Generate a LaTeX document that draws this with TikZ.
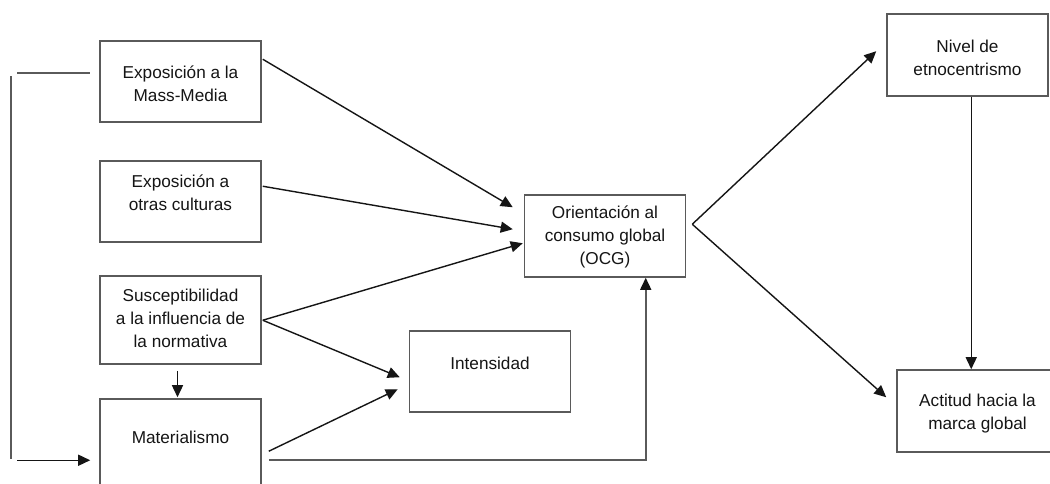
\documentclass[tikz,border=0pt]{standalone}
\usepackage{fontspec}
\setmainfont{Liberation Sans}
\usetikzlibrary{arrows.meta,calc}
\definecolor{boxline}{HTML}{5A5A5A}
\definecolor{wire}{HTML}{151515}
\definecolor{ink}{HTML}{151515}
\tikzset{
  box/.style={draw=boxline, line width=1.15pt, minimum width=120.75pt, inner sep=0pt},
  txt/.style={align=center, text=ink, font=\fontsize{12.9}{17.2}\selectfont, inner sep=0pt},
  tip/.style={-{Triangle[length=9pt,width=8.25pt,color=wire]}},
  arr/.style={draw=wire, line width=1.05pt, tip},
  graywire/.style={draw=boxline, line width=1.15pt}
}
\begin{document}
\begin{tikzpicture}[x=0.75pt,y=-0.75pt]
\useasboundingbox (0,0) rectangle (1050,483);
\clip (0,0) rectangle (1050,483);
\fill[white] (0,0) rectangle (1050,483);

% boxes (sizes in px, 1px = 0.75pt)
\node[box, minimum height=60.75pt] (mm)   at (180.5,81.5) {};
\node[box, minimum height=60.75pt] (oc)   at (180.5,201.5) {};
\node[box, minimum height=66pt]    (susc) at (180.5,320) {};
\node[box, minimum height=68.25pt] (mat)  at (180.5,444.5) {};
\node[box, minimum height=60.75pt] (int)  at (490,371.5) {};
\node[box, minimum height=61.5pt]  (ocg)  at (605,236) {};
\node[box, minimum height=61.5pt]  (niv)  at (967.5,55) {};
\node[box, minimum height=61.5pt]  (act)  at (977.5,411) {};

% labels
\node[txt] (tmm)   at (180.5,84)  {Exposición a la\\Mass-Media};
\node[txt] (toc)   at (180.5,193) {Exposición a\\otras culturas};
\node[txt] (tsusc) at (180.5,318) {Susceptibilidad\\a la influencia de\\la normativa};
\node[txt] (tmat)  at (180.5,437) {Materialismo};
\node[txt] (tint)  at (490,363)   {Intensidad};
\node[txt] (tocg)  at (605,237)   {Orientación al\\consumo global\\(OCG)};
\node[txt] (tniv)  at (967.5,57.5) {Nivel de\\etnocentrismo};
\node[txt] (tact)  at (977.5,413.5) {Actitud hacia la\\marca global};

% left bracket
\coordinate (lt1) at ($(mm.north west)+(-82,33)$);
\coordinate (lt2) at ($(mm.north west)+(-9,33)$);
\coordinate (lv1) at ($(mm.north west)+(-88,36)$);
\coordinate (lv2) at ($(mat.north west)+(-88,61)$);
\coordinate (lb1) at ($(mat.north west)+(-82,62)$);
\coordinate (lb2) at ($(mat.north west)+(-9,62)$);
\draw[graywire] (lt1) -- (lt2);
\draw[graywire] (lv1) -- (lv2);
\draw[arr] (lb1) -- (lb2);

% inputs to OCG
\draw[arr] ($(mm.north east)+(1,19)$) -- ($(ocg.north west)+(-11,13)$);
\draw[arr] ($(oc.north east)+(1,26)$) -- ($(ocg.north west)+(-11,35)$);
\draw[arr] ($(susc.north east)+(1,45)$) -- ($(ocg.north west)+(-1,49)$);

% inputs to Intensidad
\draw[arr] ($(susc.north east)+(1,45)$) -- ($(int.north west)+(-9,47)$);
\draw[arr] ($(mat.north east)+(7,53)$) -- ($(int.north west)+(-11,59)$);

% Susceptibilidad to Materialismo
\draw[arr] ($(susc.south)+(-3,6)$) -- ($(mat.north)+(-3,-1)$);

% Materialismo to OCG
\draw[graywire, tip] ($(mat.north east)+(7,62)$) -| ($(ocg.south west)+(122,0)$);

% OCG outputs
\coordinate (apex) at ($(ocg.north east)+(6,30)$);
\draw[arr] (apex) -- ($(niv.north west)+(-10,38)$);
\draw[arr] (apex) -- ($(act.north west)+(-10,28)$);
\draw[arr] ($(niv.south west)+(85,0)$) -- ($(act.north west)+(75,0)$);
\end{tikzpicture}
\end{document}
